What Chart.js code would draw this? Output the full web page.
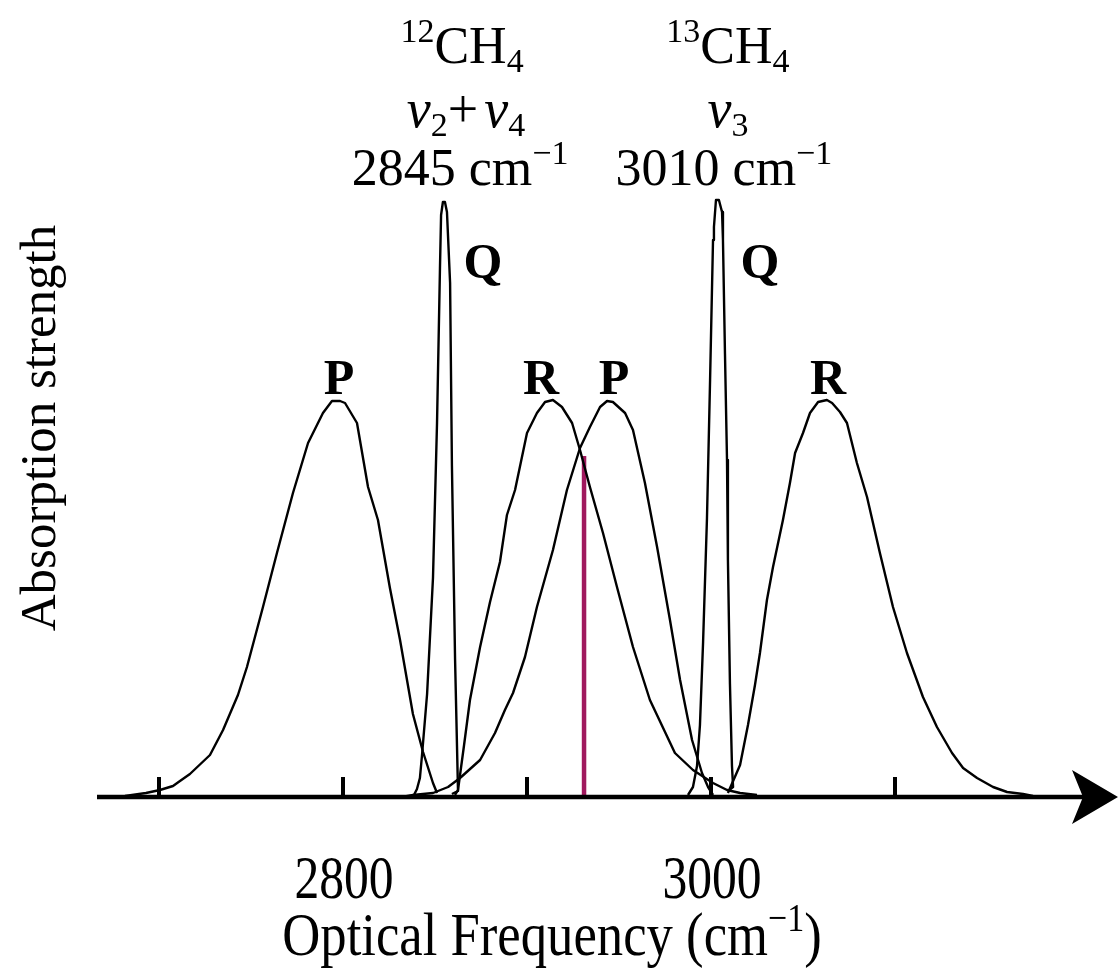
<!DOCTYPE html>
<html><head><meta charset="utf-8">
<script src="https://cdn.jsdelivr.net/npm/chart.js@4.4.0/dist/chart.umd.min.js"></script>
<style>html,body{margin:0;padding:0;background:#fff;}#wrap{width:1118px;height:971px;}</style>
</head><body><div id="wrap"><canvas id="c" width="1118" height="971"></canvas></div>
<script>
// ---- data (x: optical frequency, cm^-1; y: absorption strength, arbitrary units) ----
const band12P_x = [2681.5, 2692.9, 2700.5, 2707.6, 2711.4, 2716.8, 2727.7, 2734.8, 2742.9, 2747.8, 2756.5, 2764.1, 2772.8, 2781.0, 2789.1, 2794.0, 2798.4, 2801.1, 2807.6, 2813.6, 2819.0, 2825.5, 2831.0, 2838.0, 2843.5, 2848.9, 2851.1];
const band12P_y = [0.01, 0.04, 0.07, 0.11, 0.16, 0.23, 0.42, 0.67, 1.02, 1.30, 1.90, 2.44, 3.04, 3.54, 3.84, 3.96, 3.96, 3.94, 3.74, 3.10, 2.77, 2.09, 1.57, 0.83, 0.45, 0.14, 0.04];

const band12Q_x = [2838.0, 2840.2, 2841.8, 2842.9, 2845.7, 2848.9, 2851.1, 2852.7, 2853.3, 2854.3, 2855.4, 2856.5, 2858.2, 2859.2, 2860.9, 2862.5, 2859.2];
const band12Q_y = [0.00, 0.08, 0.19, 0.41, 1.03, 2.19, 3.74, 5.29, 5.82, 5.95, 5.95, 5.85, 5.14, 3.31, 1.38, 0.06, 0.03];

const band12R_x = [2860.9, 2862.5, 2865.8, 2869.0, 2874.5, 2879.9, 2885.3, 2889.1, 2893.5, 2900.0, 2905.4, 2909.8, 2914.1, 2919.0, 2924.5, 2928.8, 2934.2, 2941.3, 2948.9, 2957.6, 2966.8, 2980.4, 2990.2, 3001.1, 3008.7, 3015.8, 3025.0];
const band12R_y = [0.02, 0.07, 0.52, 0.97, 1.50, 1.95, 2.35, 2.82, 3.07, 3.64, 3.84, 3.95, 3.97, 3.90, 3.74, 3.47, 3.10, 2.64, 2.10, 1.50, 0.97, 0.44, 0.27, 0.14, 0.07, 0.04, 0.02];

const band13P_x = [2832.1, 2838.0, 2848.9, 2857.1, 2863.6, 2874.5, 2882.6, 2888.0, 2892.4, 2898.9, 2905.4, 2914.1, 2921.7, 2928.8, 2934.2, 2939.7, 2943.5, 2946.7, 2953.3, 2957.6, 2964.1, 2970.7, 2977.7, 2983.2, 2989.7, 2995.1, 2998.4, 3001.1];
const band13P_y = [0.00, 0.02, 0.04, 0.10, 0.19, 0.37, 0.64, 0.87, 1.04, 1.40, 1.90, 2.47, 3.07, 3.49, 3.70, 3.90, 3.96, 3.95, 3.84, 3.67, 3.14, 2.50, 1.77, 1.17, 0.57, 0.24, 0.10, 0.02];

const band13Q_x = [2987.5, 2990.2, 2992.4, 2994.0, 2995.7, 2997.8, 2999.5, 3001.1, 3001.6, 3002.7, 3004.3, 3006.0, 3006.5, 3007.6, 3008.7, 3009.2, 3010.3, 3011.4, 3012.0, 3009.2];
const band13Q_y = [0.02, 0.10, 0.31, 0.72, 1.55, 2.78, 4.17, 5.57, 5.70, 5.97, 5.97, 5.85, 5.57, 4.43, 3.37, 2.37, 1.13, 0.31, 0.10, 0.06];

const band13R_x = [3009.2, 3015.8, 3020.1, 3023.9, 3026.6, 3030.4, 3033.7, 3039.1, 3042.9, 3045.7, 3050.0, 3053.8, 3058.2, 3063.0, 3065.8, 3070.1, 3073.9, 3079.3, 3084.8, 3091.8, 3098.9, 3106.5, 3115.2, 3122.8, 3131.0, 3137.0, 3144.6, 3153.3, 3160.9, 3169.6, 3175.0];
const band13R_y = [0.04, 0.32, 0.72, 1.12, 1.44, 1.97, 2.30, 2.77, 3.14, 3.44, 3.64, 3.84, 3.95, 3.97, 3.94, 3.85, 3.74, 3.34, 3.00, 2.44, 1.90, 1.44, 1.00, 0.70, 0.44, 0.29, 0.19, 0.10, 0.05, 0.03, 0.01];

const laser_x = [2931, 2931];
const laser_y = [0, 3.41];

const tickValues = [2700, 2800, 2900, 3000, 3100];
const tickLabels = ['', '2800', '', '3000', ''];

// branch labels anchored at frequency values
const branchLabelText = ['P', 'Q', 'R', 'P', 'Q', 'R'];
const branchLabelX = [2797.8, 2876.1, 2907.6, 2947.3, 3026.6, 3063.6];

// ---- helpers ----
const SERIF = '"Liberation Serif","Times New Roman",Times,serif';
const pts = (xs, ys) => xs.map((x, i) => ({x: x, y: ys[i]}));

function rich(ctx, parts, cx, by, sx) {
  sx = sx || 1;
  ctx.save();
  ctx.translate(cx, by);
  ctx.scale(sx, 1);
  let w = 0;
  parts.forEach(p => { ctx.font = p.f; p.w = ctx.measureText(p.t).width + (p.gap || 0); w += p.w; });
  let x = -w / 2;
  ctx.textAlign = 'left';
  ctx.textBaseline = 'alphabetic';
  parts.forEach(p => { ctx.font = p.f; ctx.fillText(p.t, x + (p.pre || 0), p.dy || 0); x += p.w; });
  ctx.restore();
}

const decor = {
  id: 'decor',
  afterDatasetsDraw(chart) {
    const ctx = chart.ctx;
    const xs = chart.scales.x, ys = chart.scales.y;
    const y0 = ys.getPixelForValue(0);
    const left = chart.chartArea.left;
    ctx.save();
    ctx.fillStyle = '#000';
    ctx.strokeStyle = '#000';
    // axis line
    ctx.lineWidth = 4.5;
    ctx.beginPath();
    ctx.moveTo(left, y0);
    ctx.lineTo(1090, y0);
    ctx.stroke();
    // arrow head (notched)
    ctx.beginPath();
    ctx.moveTo(1118, y0);
    ctx.lineTo(1072, y0 - 27);
    ctx.lineTo(1083, y0);
    ctx.lineTo(1072, y0 + 27);
    ctx.closePath();
    ctx.fill();
    // ticks (pointing up)
    ctx.lineWidth = 4;
    tickValues.forEach(v => {
      const px = xs.getPixelForValue(v);
      ctx.beginPath();
      ctx.moveTo(px, y0 - 20);
      ctx.lineTo(px, y0);
      ctx.stroke();
    });
    // tick labels (condensed serif)
    tickValues.forEach((v, i) => {
      if (!tickLabels[i]) return;
      rich(ctx, [{t: tickLabels[i], f: '62px ' + SERIF}], xs.getPixelForValue(v) + 1, 898, 0.8);
    });
    // x title
    const bigB = '62px ' + SERIF, smB = '40px ' + SERIF;
    rich(ctx, [{t: 'Optical Frequency (cm', f: bigB}, {t: '\u22121', f: smB, dy: -24}, {t: ')', f: bigB}], 552, 955, 0.85);
    // y title
    ctx.save();
    ctx.translate(55, 428);
    ctx.rotate(-Math.PI / 2);
    ctx.font = '51px ' + SERIF;
    ctx.textAlign = 'center';
    ctx.textBaseline = 'alphabetic';
    ctx.fillText('Absorption strength', 0, 0);
    ctx.restore();
    // band headers
    const big = '52px ' + SERIF, ibig = 'italic 54px ' + SERIF, sm = '34px ' + SERIF, plus = '54px ' + SERIF;
    const c12 = xs.getPixelForValue(2864.7), c13 = xs.getPixelForValue(3009.2);
    rich(ctx, [{t: '12', f: sm, dy: -21}, {t: 'CH', f: big}, {t: '4', f: sm, dy: 9}], c12, 63);
    rich(ctx, [{t: '\u03bd', f: ibig}, {t: '2', f: sm, dy: 9}, {t: '+', f: plus, gap: 6}, {t: '\u03bd', f: ibig}, {t: '4', f: sm, dy: 9}], c12 + 4, 127);
    rich(ctx, [{t: '2845 cm', f: big}, {t: '\u22121', f: sm, dy: -21}], c12 - 2, 185);
    rich(ctx, [{t: '13', f: sm, dy: -21}, {t: 'CH', f: big}, {t: '4', f: sm, dy: 9}], c13, 63);
    rich(ctx, [{t: '\u03bd', f: ibig}, {t: '3', f: sm, dy: 9}], c13, 127);
    rich(ctx, [{t: '3010 cm', f: big}, {t: '\u22121', f: sm, dy: -21}], c13 - 4, 185);
    // branch labels
    const bold = 'bold 50px ' + SERIF;
    branchLabelText.forEach((t, i) => {
      const by = t === 'Q' ? 278 : 394;
      rich(ctx, [{t: t, f: bold}], xs.getPixelForValue(branchLabelX[i]), by);
    });
    ctx.restore();
  }
};

const lineDs = (xs, ys) => ({
  data: pts(xs, ys), borderColor: '#000', borderWidth: 2.4,
  pointRadius: 0, tension: 0, fill: false, showLine: true, borderJoinStyle: 'round'
});

new Chart(document.getElementById('c'), {
  type: 'line',
  data: {
    datasets: [
      lineDs(band12P_x, band12P_y),
      lineDs(band12Q_x, band12Q_y),
      lineDs(band12R_x, band12R_y),
      lineDs(band13P_x, band13P_y),
      lineDs(band13Q_x, band13Q_y),
      lineDs(band13R_x, band13R_y),
      {data: pts(laser_x, laser_y), borderColor: '#A0195E', borderWidth: 4.5, pointRadius: 0, fill: false, showLine: true, borderCapStyle: 'butt'}
    ]
  },
  options: {
    responsive: false,
    animation: false,
    devicePixelRatio: 1,
    layout: {padding: {left: 97, right: 0, top: 0, bottom: 174}},
    plugins: {legend: {display: false}, tooltip: {enabled: false}},
    scales: {
      x: {type: 'linear', min: 2666.3, max: 3221.2, display: false},
      y: {type: 'linear', min: 0, max: 7.97, display: false}
    }
  },
  plugins: [decor]
});
</script>
</body></html>
